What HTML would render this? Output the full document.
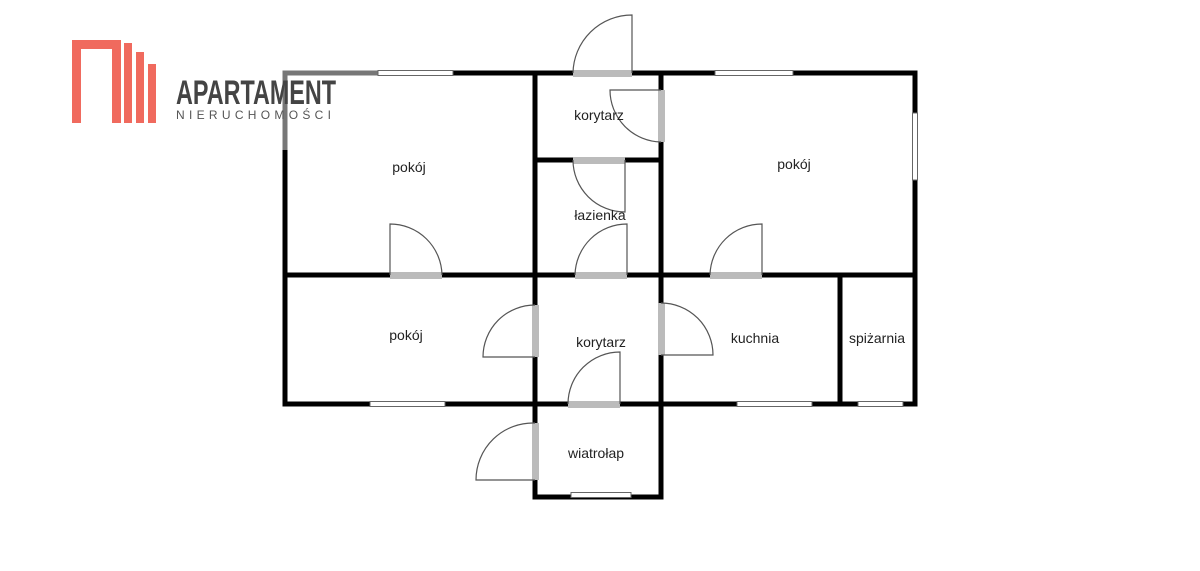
<!DOCTYPE html>
<html><head><meta charset="utf-8"><style>
html,body{margin:0;padding:0;background:#fff;width:1200px;height:571px;overflow:hidden}
svg{display:block}
text{font-family:"Liberation Sans",sans-serif}
</style></head><body>
<svg width="1200" height="571" viewBox="0 0 1200 571" xmlns="http://www.w3.org/2000/svg">

<g stroke="#000" stroke-width="5" stroke-linecap="square" fill="none">
<path d="M378 73H915V404H285V150"/>
<path d="M535 73V497H661V73"/>
<path d="M535 160H661"/>
<path d="M285 275H915"/>
<path d="M840 275V404"/>
<path d="M535 404H661"/>
</g>
<path d="M285 150V73H378" stroke="#777" stroke-width="5" fill="none"/>

<g fill="#fff" stroke="#666" stroke-width="1">
<rect x="378" y="70.5" width="75" height="5"/>
<rect x="715" y="70.5" width="78" height="5"/>
<rect x="912.5" y="113" width="5" height="67"/>
<rect x="370" y="401.5" width="75" height="5"/>
<rect x="737" y="401.5" width="75" height="5"/>
<rect x="858" y="401.5" width="45" height="5"/>
<rect x="571" y="492.5" width="60" height="5"/>
</g>

<g fill="#bbb">
<rect x="573" y="70" width="59" height="7"/>
<rect x="658" y="90" width="7" height="52"/>
<rect x="573" y="157" width="52" height="7"/>
<rect x="575" y="272" width="52" height="7"/>
<rect x="390" y="272" width="52" height="7"/>
<rect x="710" y="272" width="52" height="7"/>
<rect x="532" y="305" width="7" height="52"/>
<rect x="658" y="303" width="7" height="52"/>
<rect x="568" y="401" width="52" height="7"/>
<rect x="532" y="423" width="7" height="57"/>
</g>

<g stroke="#555" stroke-width="1.2" fill="none">
<path d="M632 73V15A59 59 0 0 0 573 73"/>
<path d="M661 90H610A52 52 0 0 0 661 142"/>
<path d="M625 160V212A52 52 0 0 1 573 160"/>
<path d="M627 275V224A52 52 0 0 0 575 275"/>
<path d="M390 275V224A52 52 0 0 1 442 275"/>
<path d="M762 275V224A52 52 0 0 0 710 275"/>
<path d="M535 357H483A52 52 0 0 1 535 305"/>
<path d="M661 355H713A52 52 0 0 0 661 303"/>
<path d="M620 404V352A52 52 0 0 0 568 404"/>
<path d="M535 480H476A57 57 0 0 1 535 423"/>
</g>

<g font-size="14" fill="#222" text-anchor="middle">
<text x="409" y="172">pokój</text>
<text x="599" y="120">korytarz</text>
<text x="600" y="220">łazienka</text>
<text x="794" y="169">pokój</text>
<text x="406" y="340">pokój</text>
<text x="601" y="347">korytarz</text>
<text x="755" y="343">kuchnia</text>
<text x="877" y="343">spiżarnia</text>
<text x="596" y="458">wiatrołap</text>
</g>

<!-- logo on top -->
<g fill="#f06a5e">
<path d="M72 40h49v83h-9V49H81v74h-9z"/>
<rect x="124" y="43" width="8" height="80"/>
<rect x="136" y="52" width="8" height="71"/>
<rect x="148" y="64" width="8" height="59"/>
</g>
<text x="176" y="104" font-size="34" font-weight="bold" fill="#444" textLength="160" lengthAdjust="spacingAndGlyphs">APARTAMENT</text>
<text x="176" y="119" font-size="12" fill="#555" letter-spacing="4.3">NIERUCHOMOŚCI</text>
</svg>
</body></html>
